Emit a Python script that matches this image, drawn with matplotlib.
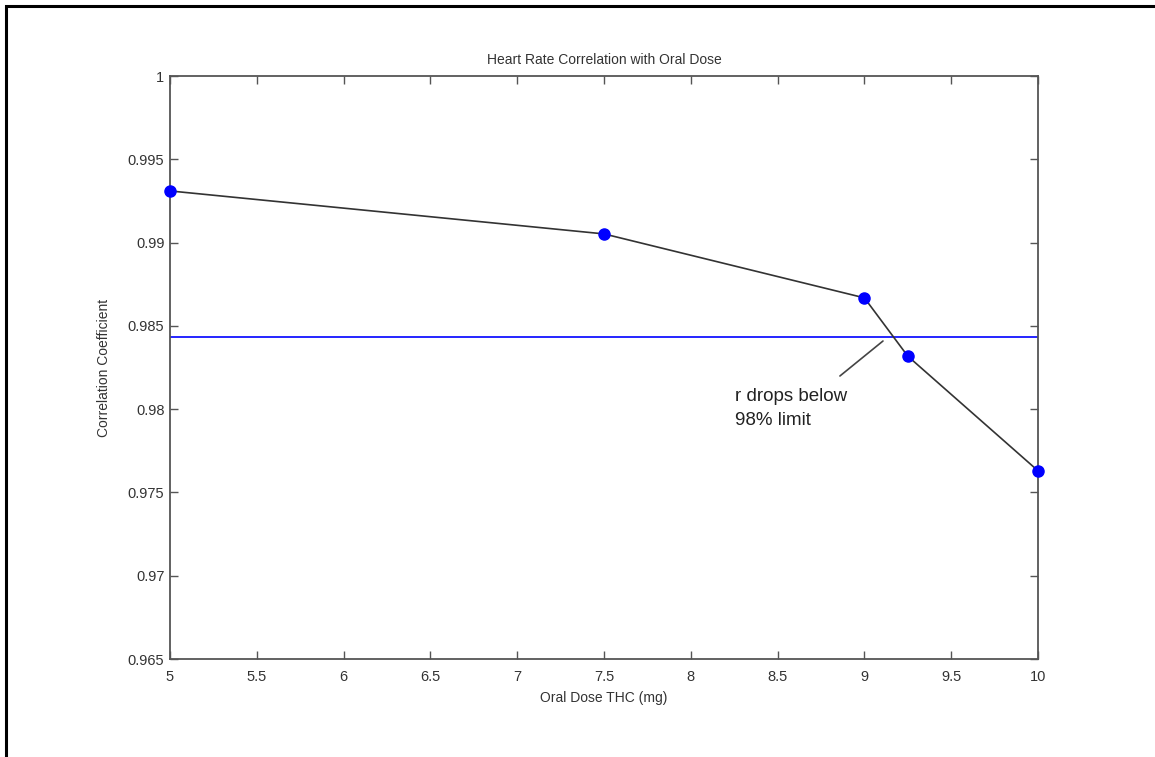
import matplotlib
matplotlib.use('Agg')
import matplotlib.pyplot as plt
from matplotlib.patches import Rectangle
from matplotlib.ticker import FuncFormatter

dose_mg = [5, 7.5, 9, 9.25, 10]
corr_r = [0.9931, 0.99052, 0.98668, 0.98318, 0.97630]
limit_r = 0.98433

x_ticks = [5, 5.5, 6, 6.5, 7, 7.5, 8, 8.5, 9, 9.5, 10]
y_ticks = [0.965, 0.97, 0.975, 0.98, 0.985, 0.99, 0.995, 1]

plt.rcParams['font.family'] = ['Liberation Sans', 'DejaVu Sans']

fig = plt.figure(figsize=(11.55, 7.57), dpi=100)
ax = fig.add_axes([170 / 1155, 1 - 659 / 757, (1038 - 170) / 1155, (659 - 76) / 757])

ax.axhline(limit_r, color='#0000ff', lw=1.2)
ax.plot(dose_mg, corr_r, color='#333333', lw=1.2, zorder=3)
ax.plot(dose_mg, corr_r, 'o', color='#0000ff', ms=8, zorder=4, clip_on=False)

ax.set_xlim(5, 10)
ax.set_ylim(0.965, 1)
ax.set_xticks(x_ticks)
ax.set_yticks(y_ticks)
ax.xaxis.set_major_formatter(FuncFormatter(lambda v, p: '%g' % v))
ax.yaxis.set_major_formatter(FuncFormatter(lambda v, p: '%g' % v))
ax.tick_params(direction='in', top=True, right=True, length=6, width=1,
               color='#555555', labelsize=10.5, labelcolor='#333333')
ax.tick_params(axis='x', pad=8)
ax.tick_params(axis='y', pad=4)
for s in ax.spines.values():
    s.set_color('#555555')
    s.set_linewidth(1.3)

ax.set_title('Heart Rate Correlation with Oral Dose', fontsize=10, color='#333333', pad=9)
ax.set_xlabel('Oral Dose THC (mg)', fontsize=10, color='#333333', labelpad=5)
ax.set_ylabel('Correlation Coefficient', fontsize=10, color='#333333', labelpad=12)

# annotation: leader line plus two-line label
ax.annotate('', xy=(9.107, 0.98409), xytext=(8.859, 0.98199),
            arrowprops=dict(arrowstyle='-', color='#444444', lw=1.2,
                            shrinkA=0, shrinkB=0))
ax.text(8.255, 0.98127, 'r drops below\n98% limit', fontsize=13.5,
        color='#222222', va='top', ha='left', linespacing=1.55)

fig.patches.append(Rectangle((6 / 1155, -0.1), 1.2, 1 - 6 / 757 + 0.1,
                             transform=fig.transFigure, fill=False,
                             edgecolor='black', lw=2.2))

fig.savefig('out.png', dpi=100)
